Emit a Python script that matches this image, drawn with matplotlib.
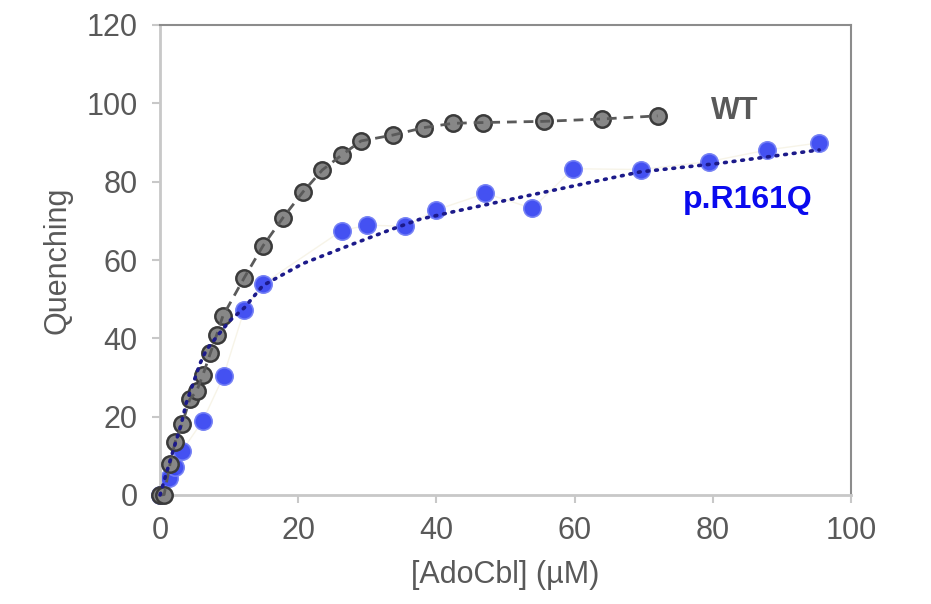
import matplotlib
matplotlib.use("Agg")
import matplotlib.pyplot as plt

plt.rcParams['font.family'] = ['Liberation Sans', 'DejaVu Sans']

# WT data
wt_x = [0, 0.6, 1.45, 2.2, 3.2, 4.3, 5.3, 6.2, 7.3, 8.2, 9.1, 12.2, 14.9, 17.8,
        20.7, 23.5, 26.3, 29.1, 33.7, 38.2, 42.4, 46.8, 55.5, 63.9, 72.0]
wt_y = [0, 0.1, 7.9, 13.6, 18.1, 24.4, 26.5, 30.6, 36.3, 40.9, 45.7, 55.5, 63.6, 70.8,
        77.4, 83.0, 86.8, 90.4, 91.9, 93.8, 94.9, 95.1, 95.4, 96.0, 96.8]

# p.R161Q data
mut_x = [0, 1.3, 2.2, 3.2, 6.2, 9.2, 12.2, 14.9, 26.3, 30.0, 35.5, 40.0, 47.1,
         53.9, 59.8, 69.6, 79.4, 87.9, 95.4]
mut_y = [0, 4.3, 7.2, 11.3, 19.0, 30.4, 47.3, 53.9, 67.5, 68.9, 68.6, 72.8, 77.0,
         73.2, 83.3, 83.1, 85.1, 88.1, 89.9]

# fitted curve for p.R161Q
fit_x = [0, 1.5, 3.1, 3.8, 4.8, 5.8, 6.7, 8.2, 10.1, 12.2, 14.9, 20.7, 27.5, 33.3,
         37.6, 42.4, 52.1, 61.7, 69.5, 81.0, 95.4]
fit_y = [0, 9.0, 18.3, 23.5, 28.5, 33.6, 37.0, 40.4, 44.5, 47.8, 53.5, 59.1, 63.8, 67.7,
         70.4, 72.3, 76.0, 79.6, 82.5, 84.7, 88.1]

x_ticks = [0, 20, 40, 60, 80, 100]
y_ticks = [0, 20, 40, 60, 80, 100, 120]

fig = plt.figure(figsize=(9.31, 6.04), dpi=100)
ax = fig.add_axes([160/931, 1-495/604, (851-160)/931, (495-25)/604])

txt = '#595959'

# faint connecting line of mutant points
ax.plot(mut_x, mut_y, color='#f7f4e8', lw=1.0, zorder=1, clip_on=False)
ax.plot(mut_x, mut_y, 'o', ms=12.5, mfc='#3a48f2', mec='#7480f5', mew=1.2,
        alpha=0.95, zorder=2, clip_on=False)

ax.plot(wt_x, wt_y, ls='none', marker='o', ms=11.8,
        mfc='#878787', mec='#3a3a3a', mew=1.8, zorder=3, clip_on=False)
ax.plot(wt_x, wt_y, color='#5a5a5a', lw=2, ls=(0, (3.5, 2.5)), zorder=3.5,
        clip_on=False)

ax.plot(fit_x, fit_y, color='#1c1a8a', lw=2.6, ls=(0, (0.5, 1.9)),
        dash_capstyle='round', zorder=4, clip_on=False)

ax.set_xlim(0, 100)
ax.set_ylim(0, 120)
ax.set_xticks(x_ticks)
ax.set_yticks(y_ticks)

for s in ['left', 'bottom']:
    ax.spines[s].set_color('#c8c8c8')
    ax.spines[s].set_linewidth(2)
for s in ['top', 'right']:
    ax.spines[s].set_color('#8c8c8c')
    ax.spines[s].set_linewidth(1.5)

ax.tick_params(axis='both', direction='out', length=6, width=1.5, color='#c8c8c8',
               labelsize=22, labelcolor=txt)
ax.tick_params(axis='y', pad=10)
ax.tick_params(axis='x', pad=9)

ax.set_xlabel('[AdoCbl] (\u00b5M)', fontsize=22, color=txt, labelpad=10)
ax.set_ylabel('Quenching', fontsize=22, color=txt, labelpad=10)

ax.text(83.2, 98.0, 'WT', fontsize=22, fontweight='bold', color='#595959',
        ha='center', va='center')
ax.text(85.0, 75.2, 'p.R161Q', fontsize=23, fontweight='bold', color='#0a0aee',
        ha='center', va='center')

fig.savefig('out.png', dpi=100)
